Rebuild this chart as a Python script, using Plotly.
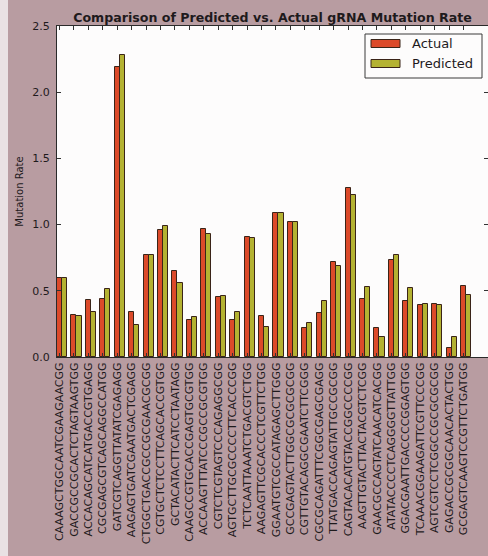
import plotly.graph_objects as go

sequences = [
    "CAAAGCTGGCAATCGAAGAACGG", "GACCGCCGCACTCTAGTAAGTGG", "ACCACAGCATCATGACCGTGAGG",
    "CGCGAGCGTCAGCAGGCCATGG", "GATCGTCAGGTTATATCGAGAGG", "AAGAGTGATCGAATGACTCGAGG",
    "CTGGCTGACCGCCGCGAACGCGG", "CGTGCTCTCCTTCAGCACCGTGG", "GCTACATACTTCATCCTAATAGG",
    "CAAGCCGTGCACCGAGTGCGTGG", "ACCAAGTTTATCCCGCCGCGTGG", "CGTCTCGTAGTCCCAGAGGCGG",
    "AGTGCTTGCGCCCCTTCACCCGG", "TCTCAATTAAATCTGACGTCTGG", "AAGAGTTCGCACCCTCGTTCTGG",
    "GGAATGTCGCCATAGAGCTTGGG", "GCCGAGTACTTGGCGCGCGCGG", "CGTTGTACAGGCGAATCTTCGGG",
    "CGCGCAGATTTCGGCGAGCGAGG", "TTATGACCAGAGTATTGCCGCGG", "CAGTACACATGTACCGGCCCCGG",
    "AAGTTGTACTTACTACGTCTCGG", "GAACGCCAGTATCAACATCACGG", "ATATACCCCTCAGGGGTTATTGG",
    "GGACGAATTGACCCCGGAGTGG", "TCAAACGGAAGATTCGTTCCCGG", "AGTCGTCCTCGGCCGCGCGCGG",
    "GAGACCGCGGCAACACTACTGG", "GCGAGTCAAGTCCGTTCTGATGG",
]
actual = [0.60, 0.32, 0.43, 0.44, 2.19, 0.34, 0.77, 0.96, 0.65, 0.28,
          0.97, 0.45, 0.28, 0.91, 0.31, 1.09, 1.02, 0.22, 0.33, 0.72,
          1.28, 0.44, 0.22, 0.73, 0.42, 0.39, 0.40, 0.07, 0.54]
predicted = [0.60, 0.31, 0.34, 0.51, 2.28, 0.24, 0.77, 0.99, 0.56, 0.30,
             0.93, 0.46, 0.34, 0.90, 0.23, 1.09, 1.02, 0.26, 0.42, 0.69,
             1.22, 0.53, 0.15, 0.77, 0.52, 0.40, 0.39, 0.15, 0.47]
y_ticks = [0.0, 0.5, 1.0, 1.5, 2.0, 2.5]
series_names = ["Actual", "Predicted"]
series_colors = ["#dc4a2a", "#b4b232"]

bar_w = 0.35
idx = list(range(len(sequences)))
edge = "#3a2418"
ink = "#1e1a1c"
font_family = "DejaVu Sans"

fig = go.Figure()
for k, (name, vals, col) in enumerate(zip(series_names, [actual, predicted], series_colors)):
    fig.add_trace(go.Bar(
        x=[i + k * bar_w for i in idx], y=vals, name=name, width=bar_w, offset=0,
        marker=dict(color=col, line=dict(color=edge, width=1)),
        showlegend=False,
    ))

# plot area in pixels: x 57..488, y 26..357
PL, PR, PT, PB = 57, 488, 26, 357
def px_x(v):
    return (v - PL) / (PR - PL)
def px_y(v):
    return (PB - v) / (PB - PT)

shapes = [
    # light photo edge strip on the far left
    dict(type="rect", xref="paper", yref="paper", x0=px_x(0), x1=px_x(8),
         y0=px_y(556), y1=px_y(0), fillcolor="#e9e1e3", line=dict(width=0), layer="below"),
    # legend box
    dict(type="rect", xref="paper", yref="paper", x0=px_x(365), x1=px_x(482),
         y0=px_y(78), y1=px_y(34), fillcolor="#fdfcfc", line=dict(color="#3a3a3a", width=1)),
]
annotations = []
legend_rows = [(39.5, 47.5, 43.5), (59.5, 67.5, 63.5)]
for (top, bot, mid), name, col in zip(legend_rows, series_names, series_colors):
    shapes.append(dict(type="rect", xref="paper", yref="paper", x0=px_x(371), x1=px_x(400),
                       y0=px_y(bot), y1=px_y(top), fillcolor=col, line=dict(color=edge, width=1)))
    annotations.append(dict(text=name, xref="paper", yref="paper", x=px_x(410), y=px_y(mid),
                            xanchor="left", yanchor="middle", showarrow=False,
                            font=dict(size=13, family=font_family, color=ink)))

fig.update_layout(
    width=488, height=556,
    margin=dict(l=PL, r=488 - PR, t=PT, b=556 - PB),
    paper_bgcolor="#b89ca1",
    plot_bgcolor="#fdfcfc",
    barmode="overlay",
    bargap=0,
    font=dict(family=font_family, color=ink),
    title=dict(text="<b>Comparison of Predicted vs. Actual gRNA Mutation Rate</b>",
               font=dict(size=12.6, family=font_family, color=ink),
               x=0.5, xref="paper", xanchor="center", y=1, yref="paper",
               yanchor="bottom", pad=dict(b=4)),
    shapes=shapes,
    annotations=annotations,
    showlegend=False,
)
fig.update_xaxes(
    range=[0, 29.87],
    tickmode="array",
    tickvals=[i + bar_w / 2 for i in idx],
    ticktext=sequences,
    tickangle=-90,
    tickfont=dict(size=11, family=font_family, color=ink),
    ticks="inside", ticklen=4, tickcolor="#333",
    showline=True, linecolor="#2a2a2a", linewidth=1, mirror="ticks",
    showgrid=False, zeroline=False,
)
fig.update_yaxes(
    range=[0, 2.5],
    tickmode="array",
    tickvals=y_ticks,
    ticktext=[f"{v:.1f}" for v in y_ticks],
    tickfont=dict(size=11, family=font_family, color=ink),
    ticks="inside", ticklen=4, tickcolor="#333",
    ticklabelstandoff=4,
    showline=True, linecolor="#2a2a2a", linewidth=1, mirror="ticks",
    showgrid=False, zeroline=False,
    title=dict(text="Mutation Rate", font=dict(size=10, family=font_family, color=ink),
               standoff=6),
)
fig.write_html("out.html", config={"displayModeBar": False},
               post_script="document.body.style.margin='0px';")
